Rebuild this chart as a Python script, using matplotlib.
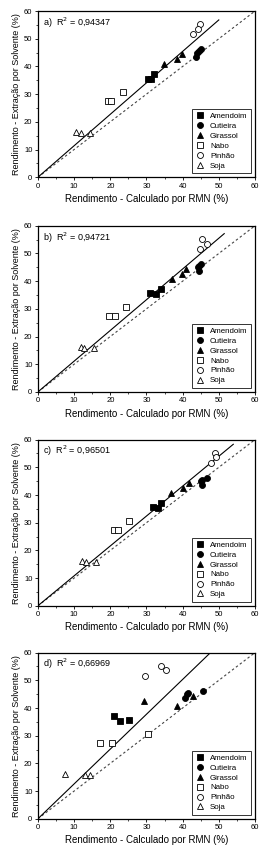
#!/usr/bin/env python3
"""
Rendimento: extracao por solvente vs calculado por RMN, four methods (a-d)
"""

import matplotlib
matplotlib.use("Agg")
import matplotlib.pyplot as plt
from matplotlib.ticker import MultipleLocator

plt.rcParams['font.family'] = ['Liberation Sans', 'DejaVu Sans']

# solvent extraction yield (%), same in every panel
y_amendoim = [37.2, 35.4, 35.6]
y_cutieira = [43.5, 45.0, 45.6, 46.3]
y_girassol = [40.8, 42.7, 44.4]
y_nabo = [27.5, 27.5, 30.6]
y_pinhao = [51.7, 55.3, 53.6]
y_soja = [16.3, 15.8, 15.8]

# NMR calculated yield (%), one list per panel
x_amendoim = [[32.0, 31.2, 30.4], [33.9, 32.7, 31.0], [34.0, 33.1, 31.8], [21.1, 22.8, 25.2]]
x_cutieira = [[43.6, 44.0, 44.6, 45.2], [44.6, 44.2, 44.6, 45.2],
              [45.4, 45.0, 45.3, 46.6], [40.6, 41.2, 41.6, 45.6]]
x_girassol = [[34.9, 38.4, 39.9], [37.0, 39.9, 40.9], [36.8, 40.2, 41.7], [38.5, 29.3, 42.8]]
x_nabo = [[19.5, 20.1, 23.5], [19.7, 21.2, 24.3], [21.1, 22.1, 25.2], [17.2, 20.6, 30.5]]
x_pinhao = [[42.9, 44.9, 44.2], [44.8, 45.4, 46.7], [47.8, 48.9, 49.1], [29.6, 33.9, 35.3]]
x_soja = [[10.4, 11.8, 14.4], [12.0, 12.7, 15.5], [12.1, 13.4, 16.1], [7.6, 12.9, 14.3]]

panel_labels = ['a)', 'b)', 'c)', 'd)']
r2_values = ['0,94347', '0,94721', '0,96501', '0,66969']
fit_slopes = [1.136, 1.110, 1.080, 1.258]
fit_xmax = [50.0, 51.5, 54.0, 48.0]

species = [
    ('Amendoim', y_amendoim, x_amendoim, 's', 'black'),
    ('Cutieira', y_cutieira, x_cutieira, 'o', 'black'),
    ('Girassol', y_girassol, x_girassol, '^', 'black'),
    ('Nabo', y_nabo, x_nabo, 's', 'white'),
    ('Pinhão', y_pinhao, x_pinhao, 'o', 'white'),
    ('Soja', y_soja, x_soja, '^', 'white'),
]

fig = plt.figure(figsize=(2.67, 8.52), dpi=100)
bottoms = [0.792, 0.540, 0.289, 0.039]

for i in range(4):
    ax = fig.add_axes([0.142, bottoms[i], 0.813, 0.195])

    # y = x reference line
    ax.plot([0, 60], [0, 60], linestyle=(0, (2.2, 2.2)), color='#444444', linewidth=0.8)
    # linear fit through origin
    ax.plot([0, fit_xmax[i]], [0, fit_slopes[i] * fit_xmax[i]], color='black', linewidth=0.8)

    for name, ys, xs, marker, face in species:
        ax.plot(xs[i], ys, linestyle='none', marker=marker, markersize=4.3,
                markerfacecolor=face, markeredgecolor='black', markeredgewidth=0.6,
                label=name)

    ax.text(0.025, 0.93, f'{panel_labels[i]}  R$^2$ = {r2_values[i]}', transform=ax.transAxes,
            fontsize=6.5, ha='left', va='center')

    ax.set_xlim(0, 60)
    ax.set_ylim(0, 60)
    ax.xaxis.set_major_locator(MultipleLocator(10))
    ax.yaxis.set_major_locator(MultipleLocator(10))
    ax.xaxis.set_minor_locator(MultipleLocator(5))
    ax.yaxis.set_minor_locator(MultipleLocator(5))
    ax.tick_params(which='major', direction='out', length=2.5, width=0.6, labelsize=5.5, pad=1.5)
    ax.tick_params(which='minor', direction='out', length=1.5, width=0.5)
    for sp in ax.spines.values():
        sp.set_linewidth(0.9)

    ax.set_xlabel('Rendimento - Calculado por RMN (%)', fontsize=7, labelpad=3)
    ax.set_ylabel('Rendimento - Extração por Solvente (%)', fontsize=6.5, labelpad=2)

    leg = ax.legend(loc='lower right', fontsize=5.7, frameon=True, fancybox=False,
                    edgecolor='black', borderpad=0.45, labelspacing=0.3,
                    handletextpad=0.8, handlelength=1.0, borderaxespad=0.5)
    leg.get_frame().set_linewidth(0.7)

plt.savefig('out.png', dpi=100)
plt.close()
